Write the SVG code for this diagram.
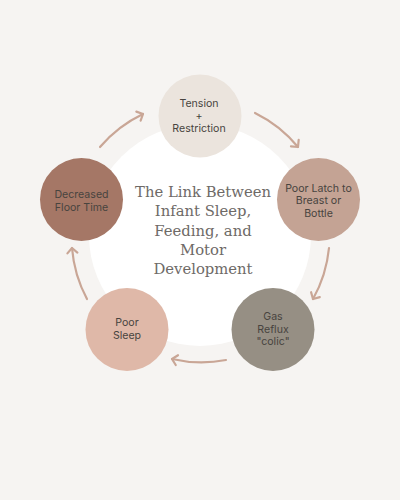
<svg xmlns="http://www.w3.org/2000/svg" width="400" height="500" viewBox="0 0 400 500">
<style>
.node text{font-family:Inter,"Noto Sans",sans-serif;font-size:10.6px;fill:#48443f;text-anchor:middle}
.title{font-family:"DejaVu Serif",serif;font-size:14.8px;fill:#6e6a67;text-anchor:middle}
.conn path{fill:none;stroke:#c9a696;stroke-width:2.2;stroke-linecap:round}
</style>
<defs>
<marker id="ah" markerUnits="userSpaceOnUse" viewBox="-8 -7 10 14" markerWidth="10" markerHeight="14" refX="0" refY="0" orient="auto">
<path d="M-5,-5 L0,0 L-5,5" fill="none" stroke="#c9a696" stroke-width="2.2" stroke-linecap="round" stroke-linejoin="round"/>
</marker>
</defs>
<rect width="400" height="500" fill="#f6f4f2"/>
<circle cx="200" cy="235" r="111" fill="#ffffff"/>
<g class="conn">
<path d="M100,147 A130,130 0 0 1 143,114" marker-end="url(#ah)"/>
<path d="M255,113 A130,130 0 0 1 298,147" marker-end="url(#ah)"/>
<path d="M329,248 A130,130 0 0 1 313,299" marker-end="url(#ah)"/>
<path d="M226,360 A130,130 0 0 1 172,359" marker-end="url(#ah)"/>
<path d="M87,299 A130,130 0 0 1 72,248" marker-end="url(#ah)"/>
</g>
<g id="title">
<text class="title" x="203" y="197">The Link Between</text>
<text class="title" x="203" y="216">Infant Sleep,</text>
<text class="title" x="203" y="235.5">Feeding, and</text>
<text class="title" x="203" y="255">Motor</text>
<text class="title" x="203" y="274">Development</text>
</g>
<g id="tension" class="node">
<circle cx="200" cy="116" r="41.5" fill="#ebe4dd"/>
<text x="199" y="107">Tension</text>
<text x="199" y="119.5">+</text>
<text x="199" y="132">Restriction</text>
</g>
<g id="latch" class="node">
<circle cx="318.5" cy="199.5" r="41.5" fill="#c4a394"/>
<text x="318.5" y="191.5">Poor Latch to</text>
<text x="318.5" y="204">Breast or</text>
<text x="318.5" y="216.5">Bottle</text>
</g>
<g id="gas" class="node">
<circle cx="273" cy="329.5" r="41.5" fill="#968f84"/>
<text x="273" y="320">Gas</text>
<text x="273" y="332.5">Reflux</text>
<text x="273" y="345">"colic"</text>
</g>
<g id="sleep" class="node">
<circle cx="127" cy="329.5" r="41.5" fill="#dfb8a8"/>
<text x="127" y="326">Poor</text>
<text x="127" y="338.5">Sleep</text>
</g>
<g id="floor" class="node">
<circle cx="81.5" cy="199.5" r="41.5" fill="#a57766"/>
<text x="81.5" y="198">Decreased</text>
<text x="81.5" y="211">Floor Time</text>
</g>
</svg>
